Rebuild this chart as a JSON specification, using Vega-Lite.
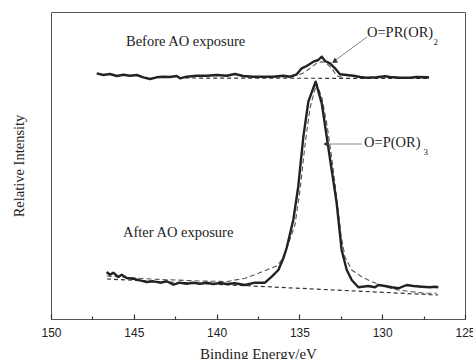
{
  "$schema": "https://vega.github.io/schema/vega-lite/v6.json",
  "width": 414,
  "height": 307,
  "autosize": {"type": "none"},
  "padding": {"left": 51, "top": 12, "right": 8, "bottom": 40},
  "background": "white",
  "config": {
    "view": {"stroke": "#555", "strokeWidth": 1},
    "axis": {"grid": false, "domain": false}
  },
  "datasets": {
    "curves": [
      {"series": "before", "E": 147.24, "I": 245.7},
      {"series": "before", "E": 146.84, "I": 244},
      {"series": "before", "E": 146.44, "I": 245},
      {"series": "before", "E": 146.03, "I": 243},
      {"series": "before", "E": 145.63, "I": 244.3},
      {"series": "before", "E": 145.23, "I": 243.3},
      {"series": "before", "E": 144.82, "I": 244},
      {"series": "before", "E": 144.43, "I": 241.7},
      {"series": "before", "E": 144.02, "I": 240},
      {"series": "before", "E": 143.62, "I": 241.7},
      {"series": "before", "E": 143.22, "I": 242.3},
      {"series": "before", "E": 142.81, "I": 242},
      {"series": "before", "E": 142.41, "I": 243},
      {"series": "before", "E": 142.21, "I": 240.7},
      {"series": "before", "E": 141.81, "I": 242.3},
      {"series": "before", "E": 141.2, "I": 243.3},
      {"series": "before", "E": 140.6, "I": 243.3},
      {"series": "before", "E": 139.99, "I": 244},
      {"series": "before", "E": 139.39, "I": 243.3},
      {"series": "before", "E": 138.89, "I": 245},
      {"series": "before", "E": 138.39, "I": 243},
      {"series": "before", "E": 137.78, "I": 242.3},
      {"series": "before", "E": 137.18, "I": 242.3},
      {"series": "before", "E": 136.58, "I": 242.3},
      {"series": "before", "E": 135.97, "I": 243.3},
      {"series": "before", "E": 135.57, "I": 242.3},
      {"series": "before", "E": 135.16, "I": 244.7},
      {"series": "before", "E": 134.86, "I": 250.7},
      {"series": "before", "E": 134.56, "I": 253},
      {"series": "before", "E": 134.16, "I": 257.3},
      {"series": "before", "E": 133.86, "I": 259},
      {"series": "before", "E": 133.65, "I": 262.3},
      {"series": "before", "E": 133.45, "I": 258},
      {"series": "before", "E": 133.15, "I": 255.7},
      {"series": "before", "E": 132.85, "I": 250.7},
      {"series": "before", "E": 132.55, "I": 244.7},
      {"series": "before", "E": 132.14, "I": 244},
      {"series": "before", "E": 131.75, "I": 243.3},
      {"series": "before", "E": 131.34, "I": 242},
      {"series": "before", "E": 130.94, "I": 241.3},
      {"series": "before", "E": 130.33, "I": 241.7},
      {"series": "before", "E": 129.83, "I": 242.7},
      {"series": "before", "E": 129.53, "I": 242},
      {"series": "before", "E": 128.93, "I": 241.3},
      {"series": "before", "E": 128.32, "I": 241.3},
      {"series": "before", "E": 127.92, "I": 242},
      {"series": "before", "E": 127.31, "I": 241.7},
      {"series": "before", "E": 127.17, "I": 241.5},

      {"series": "before_fit", "E": 135.47, "I": 242.3},
      {"series": "before_fit", "E": 134.78, "I": 245.7},
      {"series": "before_fit", "E": 134.36, "I": 250.7},
      {"series": "before_fit", "E": 133.96, "I": 255.7},
      {"series": "before_fit", "E": 133.65, "I": 257.3},
      {"series": "before_fit", "E": 133.35, "I": 255.7},
      {"series": "before_fit", "E": 133.05, "I": 250.7},
      {"series": "before_fit", "E": 132.75, "I": 243.3},
      {"series": "before_fit", "E": 132.37, "I": 241.3},

      {"series": "before_base", "E": 141.9, "I": 241},
      {"series": "before_base", "E": 127.17, "I": 240.5},

      {"series": "after", "E": 146.64, "I": 47},
      {"series": "after", "E": 146.44, "I": 44.3},
      {"series": "after", "E": 146.24, "I": 46.3},
      {"series": "after", "E": 145.94, "I": 42},
      {"series": "after", "E": 145.73, "I": 44.3},
      {"series": "after", "E": 145.43, "I": 41},
      {"series": "after", "E": 145.03, "I": 40.3},
      {"series": "after", "E": 144.63, "I": 38.7},
      {"series": "after", "E": 144.22, "I": 37},
      {"series": "after", "E": 143.82, "I": 37.7},
      {"series": "after", "E": 143.42, "I": 36.3},
      {"series": "after", "E": 143.01, "I": 37.7},
      {"series": "after", "E": 142.61, "I": 34.3},
      {"series": "after", "E": 142.21, "I": 36.3},
      {"series": "after", "E": 141.81, "I": 35.3},
      {"series": "after", "E": 141.41, "I": 36.3},
      {"series": "after", "E": 141.0, "I": 35.3},
      {"series": "after", "E": 140.6, "I": 36.3},
      {"series": "after", "E": 140.2, "I": 35},
      {"series": "after", "E": 139.79, "I": 36},
      {"series": "after", "E": 139.39, "I": 35},
      {"series": "after", "E": 138.89, "I": 35.7},
      {"series": "after", "E": 138.29, "I": 34},
      {"series": "after", "E": 137.68, "I": 36.3},
      {"series": "after", "E": 137.08, "I": 36.3},
      {"series": "after", "E": 136.67, "I": 42.3},
      {"series": "after", "E": 136.27, "I": 49},
      {"series": "after", "E": 135.97, "I": 60.7},
      {"series": "after", "E": 135.77, "I": 71},
      {"series": "after", "E": 135.37, "I": 99},
      {"series": "after", "E": 135.07, "I": 132.3},
      {"series": "after", "E": 134.76, "I": 182.3},
      {"series": "after", "E": 134.46, "I": 217.3},
      {"series": "after", "E": 134.02, "I": 237.3},
      {"series": "after", "E": 133.65, "I": 215.7},
      {"series": "after", "E": 133.35, "I": 182.3},
      {"series": "after", "E": 133.05, "I": 149},
      {"series": "after", "E": 132.75, "I": 116},
      {"series": "after", "E": 132.45, "I": 69},
      {"series": "after", "E": 132.14, "I": 49},
      {"series": "after", "E": 131.84, "I": 39},
      {"series": "after", "E": 131.44, "I": 31.7},
      {"series": "after", "E": 130.84, "I": 33},
      {"series": "after", "E": 130.43, "I": 31.7},
      {"series": "after", "E": 130.24, "I": 34},
      {"series": "after", "E": 129.83, "I": 33},
      {"series": "after", "E": 129.43, "I": 31.7},
      {"series": "after", "E": 129.03, "I": 30.7},
      {"series": "after", "E": 128.52, "I": 34},
      {"series": "after", "E": 128.12, "I": 33},
      {"series": "after", "E": 127.61, "I": 32.3},
      {"series": "after", "E": 127.11, "I": 31.7},
      {"series": "after", "E": 126.81, "I": 32.3},
      {"series": "after", "E": 126.61, "I": 31.7},

      {"series": "after_fit", "E": 146.64, "I": 43},
      {"series": "after_fit", "E": 144.02, "I": 40},
      {"series": "after_fit", "E": 141.0, "I": 38},
      {"series": "after_fit", "E": 139.39, "I": 37.5},
      {"series": "after_fit", "E": 138.29, "I": 40.7},
      {"series": "after_fit", "E": 137.48, "I": 45.7},
      {"series": "after_fit", "E": 136.88, "I": 49.7},
      {"series": "after_fit", "E": 136.37, "I": 53},
      {"series": "after_fit", "E": 136.07, "I": 59},
      {"series": "after_fit", "E": 135.69, "I": 74},
      {"series": "after_fit", "E": 135.27, "I": 94},
      {"series": "after_fit", "E": 134.96, "I": 129},
      {"series": "after_fit", "E": 134.66, "I": 174},
      {"series": "after_fit", "E": 134.36, "I": 211},
      {"series": "after_fit", "E": 133.96, "I": 235.7},
      {"series": "after_fit", "E": 133.64, "I": 221},
      {"series": "after_fit", "E": 133.33, "I": 194},
      {"series": "after_fit", "E": 133.03, "I": 159},
      {"series": "after_fit", "E": 132.73, "I": 119},
      {"series": "after_fit", "E": 132.49, "I": 84},
      {"series": "after_fit", "E": 132.25, "I": 62.3},
      {"series": "after_fit", "E": 131.84, "I": 49},
      {"series": "after_fit", "E": 131.24, "I": 42.3},
      {"series": "after_fit", "E": 130.63, "I": 37.3},
      {"series": "after_fit", "E": 129.83, "I": 32.3},
      {"series": "after_fit", "E": 129.03, "I": 29},
      {"series": "after_fit", "E": 128.22, "I": 27.3},
      {"series": "after_fit", "E": 127.42, "I": 25.7},
      {"series": "after_fit", "E": 126.71, "I": 25.7},

      {"series": "after_base", "E": 146.62, "I": 40},
      {"series": "after_base", "E": 126.63, "I": 24}
    ],
    "labels": [
      {"text": "Before AO exposure", "E": 145.47, "I": 277, "kind": "main"},
      {"text": "After AO exposure", "E": 145.65, "I": 86, "kind": "main"},
      {"text": "O=PR(OR)", "E": 130.92, "I": 286, "kind": "main"},
      {"text": "2", "E": 126.9, "I": 277.5, "kind": "sub"},
      {"text": "O=P(OR)", "E": 131.1, "I": 176, "kind": "main"},
      {"text": "3", "E": 127.5, "I": 167.5, "kind": "sub"}
    ],
    "arrows": [
      {"id": "a1", "E": 130.92, "I": 282},
      {"id": "a1", "E": 132.97, "I": 257},
      {"id": "a2", "E": 131.22, "I": 175},
      {"id": "a2", "E": 133.45, "I": 175}
    ],
    "heads": [
      {"id": "a1", "E": 132.85, "I": 258, "angle": 234},
      {"id": "a2", "E": 133.35, "I": 175, "angle": 270}
    ]
  },
  "encoding": {
    "x": {
      "field": "E",
      "type": "quantitative",
      "scale": {"domain": [125, 150], "reverse": true, "nice": false},
      "axis": {
        "title": "Binding Energy/eV",
        "titleFont": "Liberation Serif",
        "titleFontSize": 15,
        "titleFontWeight": "normal",
        "titleColor": "#222",
        "titlePadding": 8,
        "offset": -5,
        "values": [150, 147.5, 145, 142.5, 140, 137.5, 135, 132.5, 130, 127.5, 125],
        "labelExpr": "datum.value % 5 === 0 ? datum.label : ''",
        "labelFont": "Liberation Sans",
        "labelFontSize": 12,
        "labelColor": "#222",
        "labelPadding": 8,
        "labelFlush": false,
        "labelOverlap": false,
        "tickColor": "#333",
        "tickWidth": 1.2,
        "tickSize": 5,
        "tickDash": {"condition": {"test": "datum.value % 5 === 0", "value": [5, 0]}, "value": [0, 2, 3, 10]}
      }
    },
    "y": {
      "field": "I",
      "type": "quantitative",
      "scale": {"domain": [0, 307], "nice": false, "zero": false},
      "axis": {
        "title": "Relative Intensity",
        "titleFont": "Liberation Serif",
        "titleFontSize": 14.5,
        "titleFontWeight": "normal",
        "titleColor": "#222",
        "titlePadding": 25,
        "ticks": false,
        "labels": false
      }
    }
  },
  "layer": [
    {
      "data": {"name": "curves"},
      "transform": [{"filter": "indexof(['after_base','before_base'], datum.series) >= 0"}],
      "mark": {"type": "line", "color": "#333", "strokeWidth": 1.2, "strokeDash": [4, 3]},
      "encoding": {"detail": {"field": "series"}}
    },
    {
      "data": {"name": "curves"},
      "transform": [{"filter": "indexof(['after_fit','before_fit'], datum.series) >= 0"}],
      "mark": {"type": "line", "color": "#555", "strokeWidth": 1.1, "strokeDash": [5, 3]},
      "encoding": {"detail": {"field": "series"}}
    },
    {
      "data": {"name": "curves"},
      "transform": [{"filter": "indexof(['after','before'], datum.series) >= 0"}],
      "mark": {"type": "line", "color": "#222", "strokeWidth": 2.4, "strokeJoin": "round"},
      "encoding": {"detail": {"field": "series"}}
    },
    {
      "data": {"name": "arrows"},
      "mark": {"type": "line", "color": "#888", "strokeWidth": 1},
      "encoding": {"detail": {"field": "id"}}
    },
    {
      "data": {"name": "heads"},
      "mark": {"type": "point", "shape": "triangle", "filled": true, "color": "#333", "size": 35, "opacity": 1},
      "encoding": {"angle": {"field": "angle", "type": "quantitative", "scale": null}}
    },
    {
      "data": {"name": "labels"},
      "transform": [{"filter": "datum.kind === 'main'"}],
      "mark": {"type": "text", "align": "left", "baseline": "middle", "font": "Liberation Serif", "fontSize": 14.5, "color": "#222"},
      "encoding": {"text": {"field": "text"}}
    },
    {
      "data": {"name": "labels"},
      "transform": [{"filter": "datum.kind === 'sub'"}],
      "mark": {"type": "text", "align": "left", "baseline": "middle", "font": "Liberation Serif", "fontSize": 9, "color": "#222"},
      "encoding": {"text": {"field": "text"}}
    }
  ]
}
